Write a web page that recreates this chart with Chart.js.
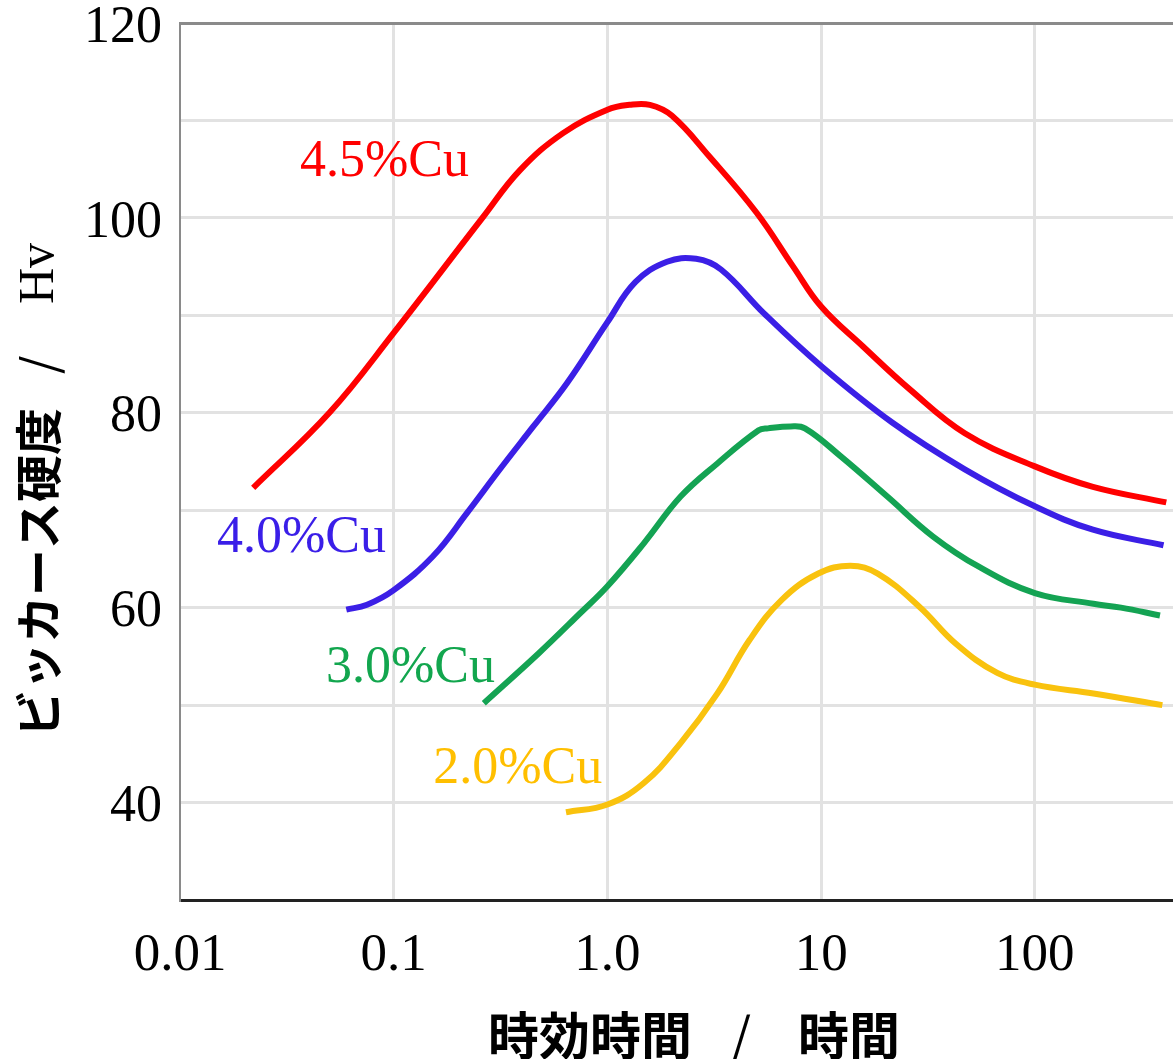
<!DOCTYPE html>
<html lang="ja">
<head>
<meta charset="utf-8">
<title>時効硬化曲線</title>
<script src="https://cdn.jsdelivr.net/npm/chart.js@4.4.1/dist/chart.umd.min.js"></script>
<style>
  html, body { margin: 0; padding: 0; background: #fff; }
  #wrap { width: 1173px; height: 1059px; }
</style>
</head>
<body>
<div id="wrap"><canvas id="c" width="1173" height="1059"></canvas></div>
<script>
// axis ticks
const xTickValues = [0.01, 0.1, 1, 10, 100];
const xTickLabels = ['0.01', '0.1', '1.0', '10', '100'];
const yTickLabelValues = [40, 60, 80, 100, 120];

// aging time (h) vs Vickers hardness
const cu45Hours = [0.022, 0.05, 0.1, 0.26, 0.39, 0.62, 1.0, 1.27, 1.58, 2.0, 3.0, 5.0, 7.4, 10, 15.7, 26, 47, 100, 187, 412];
const cu45Hv    = [72.3, 80.0, 88.2, 100.0, 104.9, 108.7, 111.1, 111.6, 111.6, 110.5, 106.3, 100.5, 95.0, 90.9, 86.8, 82.4, 77.9, 74.5, 72.4, 70.8];

const cu40Hours = [0.06, 0.075, 0.1, 0.153, 0.22, 0.314, 0.45, 0.645, 1.0, 1.35, 1.9, 2.6, 3.4, 5.4, 10, 21.5, 47, 100, 187, 400];
const cu40Hv    = [59.8, 60.3, 61.8, 65.3, 69.7, 74.2, 78.6, 83.0, 89.3, 93.4, 95.5, 95.8, 94.7, 90.2, 84.8, 79.0, 74.2, 70.4, 68.0, 66.4];

const cu30Hours = [0.264, 0.476, 0.743, 1.0, 1.48, 2.2, 3.27, 5.1, 5.64, 7.2, 8.4, 12.4, 20.4, 33.4, 54.7, 100, 188, 253, 385];
const cu30Hv    = [50.2, 55.3, 59.4, 62.2, 66.6, 71.4, 74.8, 78.2, 78.4, 78.6, 78.4, 75.5, 71.4, 67.3, 64.2, 61.5, 60.4, 60.0, 59.2];

const cu20Hours = [0.64, 1.0, 1.48, 2.2, 3.27, 4.63, 6.54, 9.7, 13.7, 18.4, 28.8, 42.7, 66.7, 100, 188, 395];
const cu20Hv    = [39.0, 39.8, 42.0, 46.1, 51.2, 56.7, 60.8, 63.5, 64.3, 63.5, 60.1, 56.3, 53.3, 52.1, 51.2, 50.0];

const seriesNames = ['4.5%Cu', '4.0%Cu', '3.0%Cu', '2.0%Cu'];

// styling / placement
const SERIF = '"Liberation Serif", "Times New Roman", serif';
const SANS_JP = '"Noto Sans CJK JP", "Noto Sans", sans-serif';
const lineColors = ['#ff0000', '#3b1fe6', '#14a353', '#f9c20e'];
const textColors = ['#ff0000', '#3a1ee8', '#12a64e', '#ffbf00'];
// where each curve name sits (data units: hours, Hv at baseline)
const labelSpots = [[0.0364, 104.3], [0.0149, 65.7], [0.0482, 52.4], [0.153, 42.05]];

function toPoints(xs, ys) {
  return xs.map((x, i) => ({ x, y: ys[i] }));
}

const allSeries = [
  toPoints(cu45Hours, cu45Hv),
  toPoints(cu40Hours, cu40Hv),
  toPoints(cu30Hours, cu30Hv),
  toPoints(cu20Hours, cu20Hv),
];

const datasets = allSeries.map((data, i) => ({
  label: seriesNames[i],
  data,
  borderColor: lineColors[i],
  borderWidth: 6,
  pointRadius: 0,
  fill: false,
  tension: 0.4,
  borderCapStyle: 'butt',
}));

const annotate = {
  id: 'annotate',
  afterDatasetsDraw(chart) {
    const { ctx, scales: { x, y } } = chart;
    ctx.save();
    ctx.font = `52px ${SERIF}`;
    ctx.textAlign = 'left';
    ctx.textBaseline = 'alphabetic';
    seriesNames.forEach((name, i) => {
      ctx.fillStyle = textColors[i];
      ctx.fillText(name, x.getPixelForValue(labelSpots[i][0]), y.getPixelForValue(labelSpots[i][1]));
    });
    ctx.restore();
  },
  afterDraw(chart) {
    const { ctx } = chart;
    ctx.save();
    ctx.fillStyle = '#000';
    ctx.textAlign = 'left';
    ctx.textBaseline = 'middle';

    // y title, rotated
    ctx.save();
    ctx.translate(38, 737);
    ctx.rotate(-Math.PI / 2);
    ctx.font = `bold 47px ${SANS_JP}`;
    ctx.fillText('ビッカース硬度', 0, 0);
    const w = ctx.measureText('ビッカース硬度').width;
    ctx.font = `47px ${SANS_JP}`;
    ctx.fillText('/', w + 34, 0);
    ctx.font = `50px ${SERIF}`;
    ctx.fillText('Hv', w + 104, 2);
    ctx.restore();

    // x title
    ctx.font = `bold 51px ${SANS_JP}`;
    ctx.fillText('時効時間', 488, 1036);
    ctx.font = `51px ${SANS_JP}`;
    ctx.fillText('/', 731, 1036);
    ctx.font = `bold 51px ${SANS_JP}`;
    ctx.fillText('時間', 798, 1036);
    ctx.restore();
  },
};

new Chart(document.getElementById('c'), {
  type: 'line',
  data: { datasets },
  plugins: [annotate],
  options: {
    responsive: false,
    animation: false,
    layout: { padding: 0 },
    plugins: {
      legend: { display: false },
      tooltip: { enabled: false },
    },
    scales: {
      x: {
        type: 'logarithmic',
        min: 0.01,
        max: 443,
        afterBuildTicks(scale) {
          scale.ticks = xTickValues.map((v) => ({ value: v }));
        },
        afterFit(scale) {
          scale.height = 159;
          scale.paddingLeft = 0;
          scale.paddingRight = 0;
        },
        ticks: {
          autoSkip: false,
          maxRotation: 0,
          padding: 24,
          color: '#000',
          font: { family: SERIF, size: 53 },
          callback: (v, i) => xTickLabels[i],
        },
        grid: {
          drawTicks: false,
          lineWidth: 3,
          color: (c) => (c.tick && c.tick.value === 0.01 ? 'rgba(0,0,0,0)' : '#e2e2e2'),
        },
        border: { color: '#222', width: 3 },
      },
      y: {
        min: 30,
        max: 120,
        afterFit(scale) {
          scale.width = 180;
          scale.paddingTop = 23;
          scale.paddingBottom = 0;
        },
        ticks: {
          stepSize: 10,
          padding: 18,
          labelOffset: 5,
          color: '#000',
          font: { family: SERIF, size: 52 },
          callback: (v) => (yTickLabelValues.includes(v) ? String(v) : ''),
        },
        grid: {
          drawTicks: false,
          lineWidth: 3,
          color: (c) => {
            const v = c.tick && c.tick.value;
            if (v === 120) return '#8a8a8a';
            if (v === 30) return 'rgba(0,0,0,0)';
            return '#e2e2e2';
          },
        },
        border: { color: '#8a8a8a', width: 2 },
      },
    },
  },
});
</script>
</body>
</html>
